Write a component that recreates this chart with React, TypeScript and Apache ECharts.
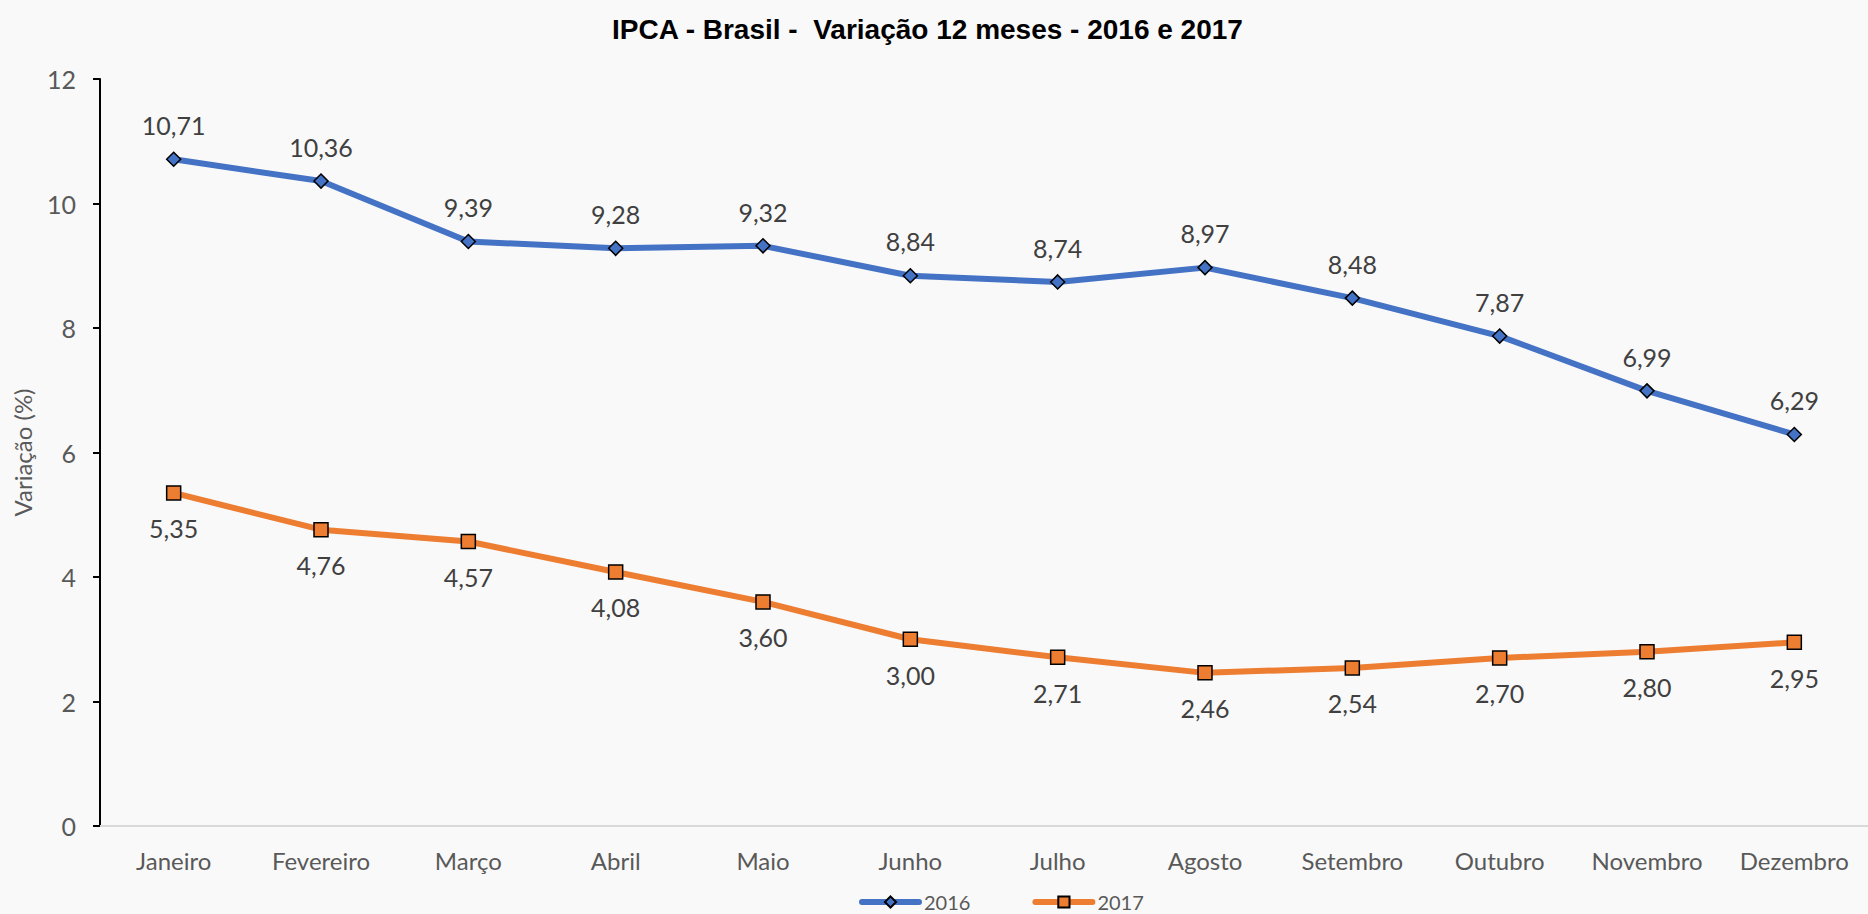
import React, { useEffect, useRef } from "react";
import * as echarts from "echarts";

const categories = ["Janeiro", "Fevereiro", "Março", "Abril", "Maio", "Junho", "Julho", "Agosto", "Setembro", "Outubro", "Novembro", "Dezembro"];
const values2016 = [10.71, 10.36, 9.39, 9.28, 9.32, 8.84, 8.74, 8.97, 8.48, 7.87, 6.99, 6.29];
const values2017 = [5.35, 4.76, 4.57, 4.08, 3.6, 3.0, 2.71, 2.46, 2.54, 2.7, 2.8, 2.95];
const seriesNames = ["2016", "2017"];

const FONT = "Lato, 'Open Sans', sans-serif";
const TITLE_FONT = "'Liberation Sans', Arial, sans-serif";
const fmt = (v: number) => v.toFixed(2).replace(".", ",");

export default function App() {
  const ref = useRef<HTMLDivElement>(null);
  useEffect(() => {
    document.body.style.margin = "0";
    const chart = echarts.init(ref.current!, null, { renderer: "svg" });
    chart.setOption({
      animation: false,
      backgroundColor: "#f9f9f9",
      title: {
        text: "IPCA - Brasil -  Variação 12 meses - 2016 e 2017",
        left: 607,
        top: 10,
        textStyle: { fontFamily: TITLE_FONT, fontSize: 28, fontWeight: "bold", color: "#000" },
      },
      legend: {
        left: 854,
        top: 887,
        itemWidth: 57,
        itemHeight: 14,
        itemGap: 62,
        lineStyle: { width: 6, cap: "round" },
        textStyle: { fontFamily: FONT, fontSize: 20, color: "#595959" },
        data: seriesNames,
      },
      grid: { left: 100, right: 0, top: 79, bottom: 88 },
      xAxis: {
        type: "category",
        data: categories,
        boundaryGap: true,
        axisLine: { lineStyle: { color: "#d9d9d9", width: 2 } },
        axisTick: { show: false },
        axisLabel: { interval: 0, fontFamily: FONT, fontSize: 24, color: "#595959", margin: 22 },
      },
      yAxis: {
        type: "value",
        min: 0,
        max: 12,
        interval: 2,
        name: "Variação (%)",
        nameLocation: "middle",
        nameGap: 66,
        nameTextStyle: { fontFamily: FONT, fontSize: 24, color: "#595959" },
        axisLine: { show: true, lineStyle: { color: "#000", width: 2 } },
        axisTick: { show: true, length: 7, lineStyle: { color: "#000", width: 2 } },
        splitLine: { show: false },
        axisLabel: { fontFamily: FONT, fontSize: 25, color: "#595959", margin: 24 },
      },
      series: [
        {
          name: seriesNames[0],
          type: "line",
          data: values2016,
          symbol: "diamond",
          symbolSize: 14,
          itemStyle: { color: "#4472C4", borderColor: "#000", borderWidth: 1.5 },
          lineStyle: { color: "#4472C4", width: 6 },
          label: {
            show: true,
            position: "top",
            distance: 14,
            formatter: (p: any) => fmt(p.value),
            fontFamily: FONT,
            fontSize: 25,
            color: "#404040",
          },
        },
        {
          name: seriesNames[1],
          type: "line",
          data: values2017,
          symbol: "rect",
          symbolSize: 14,
          itemStyle: { color: "#ED7D31", borderColor: "#000", borderWidth: 1.5 },
          lineStyle: { color: "#ED7D31", width: 6 },
          label: {
            show: true,
            position: "bottom",
            distance: 15,
            formatter: (p: any) => fmt(p.value),
            fontFamily: FONT,
            fontSize: 25,
            color: "#404040",
          },
        },
      ],
    });
    return () => chart.dispose();
  }, []);
  return <div ref={ref} style={{ width: 1868, height: 914 }} />;
}
